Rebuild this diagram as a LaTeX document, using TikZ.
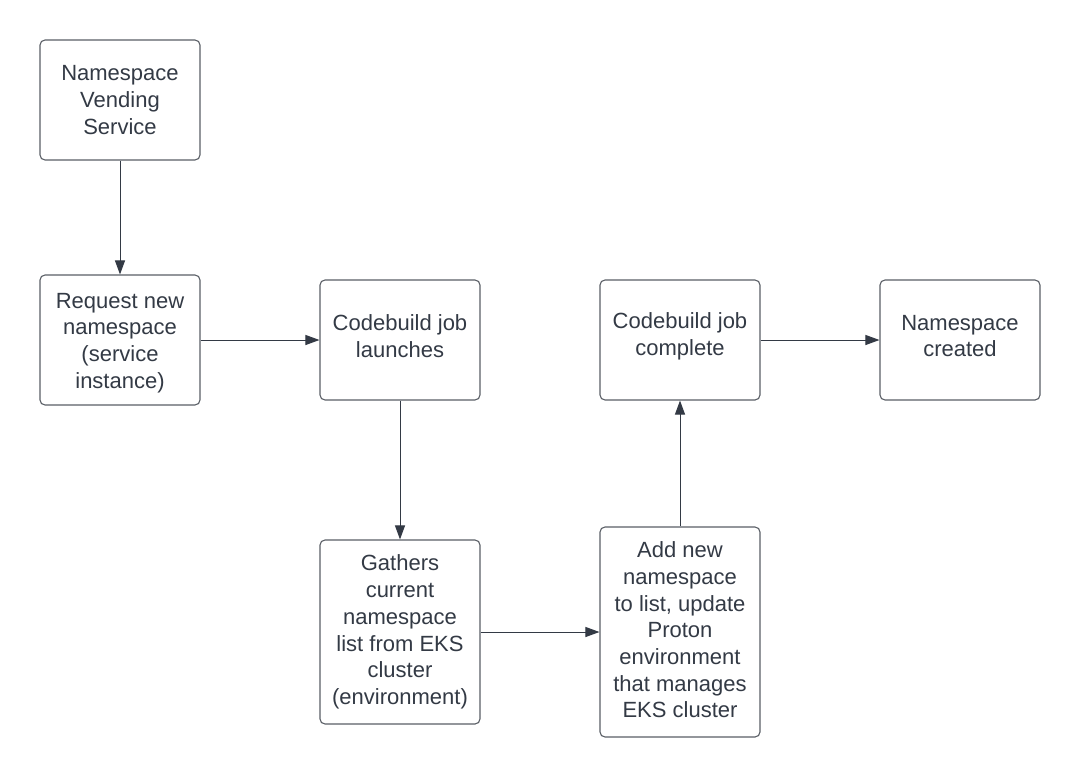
\documentclass[tikz,border=0pt]{standalone}
\usepackage{fontspec}
\setmainfont{Liberation Sans}
\usetikzlibrary{arrows.meta}
\definecolor{ink}{HTML}{333A45}
\definecolor{edge}{HTML}{5A5F66}
\begin{document}
\begin{tikzpicture}[x=1pt,y=-1pt,
  box/.style={draw=edge,line width=1.1pt,rounded corners=5pt,fill=white,inner sep=0pt,minimum width=160pt},
  txt/.style={text=ink,align=center,inner sep=0pt,font=\fontsize{22}{26.7}\selectfont},
  conn/.style={draw=ink,line width=1pt,-{Triangle[length=14pt,width=10pt]}}]
\useasboundingbox[fill=white] (0,0) rectangle (1080,777);
\node[box,minimum height=120pt] (nvs) at (120,100) {};
\node[box,minimum height=130pt] (req) at (120,340) {};
\node[box,minimum height=120pt] (cbl) at (400,340) {};
\node[box,minimum height=120pt] (cbc) at (680,340) {};
\node[box,minimum height=120pt] (nsc) at (960,340) {};
\node[box,minimum height=184pt] (gat) at (400,632) {};
\node[box,minimum height=210pt] (add) at (680,632) {};
\node[txt] (nvs-t) at ([yshift=0pt]nvs.center) {Namespace\\Vending\\Service};
\node[txt] (req-t) at ([yshift=-3pt]req.center) {Request new\\namespace\\(service\\instance)};
\node[txt] (cbl-t) at ([yshift=4pt]cbl.center) {Codebuild job\\launches};
\node[txt] (cbc-t) at ([yshift=4pt]cbc.center) {Codebuild job\\complete};
\node[txt] (nsc-t) at ([yshift=4pt]nsc.center) {Namespace\\created};
\node[txt] (gat-t) at ([yshift=0pt]gat.center) {Gathers\\current\\namespace\\list from EKS\\cluster\\(environment)};
\node[txt] (add-t) at ([yshift=2pt]add.center) {Add new\\namespace\\to list, update\\Proton\\environment\\that manages\\EKS cluster};
\draw[conn] (nvs) -- (req);
\draw[conn] (req) -- (cbl);
\draw[conn] (cbl) -- (gat);
\draw[conn] (gat) -- (add);
\draw[conn] (add) -- (cbc);
\draw[conn] (cbc) -- (nsc);
\end{tikzpicture}
\end{document}
